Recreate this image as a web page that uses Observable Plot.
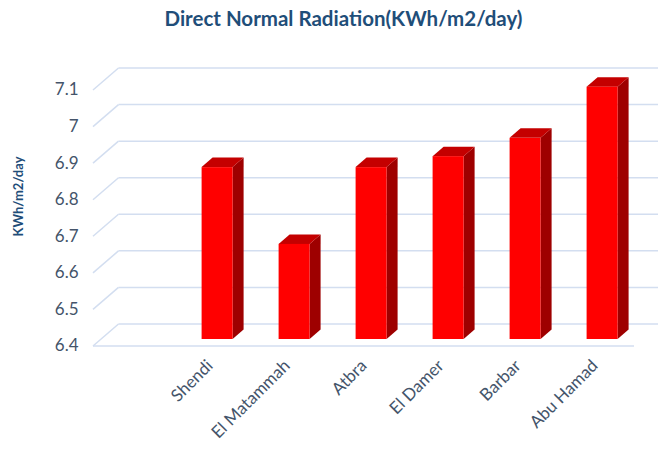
<!DOCTYPE html>
<html><head><meta charset="utf-8">
<script src="https://cdn.jsdelivr.net/npm/d3@7"></script>
<script src="https://cdn.jsdelivr.net/npm/@observablehq/plot@0.6"></script>
<style>
body{margin:0;background:#fff;width:658px;height:455px;overflow:hidden}
#title{height:40px;box-sizing:border-box;padding-top:5px;padding-left:29px;text-align:center;font:bold 20.5px Lato,sans-serif;color:#1f4e79;line-height:26px;white-space:nowrap}
#chart svg{display:block}
</style></head><body>
<div id="title"></div>
<div id="chart"></div>
<script>
const chartTitle = "Direct Normal Radiation(KWh/m2/day)";
const yTitle = "KWh/m2/day";
const categories = ["", "Shendi", "El Matammah", "Atbra", "El Damer", "Barbar", "Abu Hamad"];
const sites = ["Shendi", "El Matammah", "Atbra", "El Damer", "Barbar", "Abu Hamad"];
const radiation = [6.87, 6.66, 6.87, 6.9, 6.95, 7.09];
const yTicks = [6.4, 6.5, 6.6, 6.7, 6.8, 6.9, 7, 7.1];
const yBase = 6.4;

document.getElementById("title").textContent = chartTitle;
const data = sites.map((s, i) => ({site: s, value: radiation[i]}));

const WALL_DX = 25.5, WALL_DY = 22;   // depth of the 3-D wall
const BAR_DX = 7.6, BAR_DY = 6.5;      // bar front plane offset
const DEP_DX = 11, DEP_DY = 9.5;       // bar depth
const gridColor = "#d3def0";
const NS = "http://www.w3.org/2000/svg";

function diagonals(index, scales, values, dims, ctx, next) {
  const g = next(index, scales, values, dims, ctx);
  d3.select(g).selectAll("line").each(function() {
    const y = +this.getAttribute("y1");
    this.setAttribute("x1", dims.marginLeft);
    this.setAttribute("x2", dims.marginLeft + WALL_DX);
    this.setAttribute("y2", y - WALL_DY);
  });
  return g;
}

function extrude(index, scales, values, dims, ctx, next) {
  const g = next(index, scales, values, dims, ctx);
  d3.select(g).selectAll("rect").each(function() {
    const x = +this.getAttribute("x"), y = +this.getAttribute("y");
    const w = +this.getAttribute("width"), h = +this.getAttribute("height");
    const p = this.parentNode;
    const side = document.createElementNS(NS, "polygon");
    side.setAttribute("points", `${x+w},${y} ${x+w+DEP_DX},${y-DEP_DY} ${x+w+DEP_DX},${y+h-DEP_DY} ${x+w},${y+h}`);
    side.setAttribute("fill", "#9e0000");
    const top = document.createElementNS(NS, "polygon");
    top.setAttribute("points", `${x},${y} ${x+DEP_DX},${y-DEP_DY} ${x+w+DEP_DX},${y-DEP_DY} ${x+w},${y}`);
    top.setAttribute("fill", "#c40000");
    p.insertBefore(side, this);
    p.insertBefore(top, this);
  });
  return g;
}

const chart = Plot.plot({
  width: 658,
  height: 415,
  marginLeft: 93,
  marginRight: 24,
  marginTop: 49.5,
  marginBottom: 109.5,
  style: {fontFamily: "Lato, sans-serif", color: "#44546a", background: "#fff"},
  x: {domain: categories, paddingInner: 0.6, paddingOuter: 0.3},
  y: {domain: [6.4, 7.1]},
  marks: [
    Plot.ruleY(yTicks, {stroke: gridColor, strokeWidth: 1.5, dx: WALL_DX, dy: -WALL_DY}),
    Plot.ruleY(yTicks, {stroke: gridColor, strokeWidth: 1.5, render: diagonals}),
    Plot.ruleY([yBase], {stroke: gridColor, strokeWidth: 1.5}),
    Plot.barY(data, {x: "site", y1: yBase, y2: "value", fill: "#ff0000", dx: BAR_DX, dy: -BAR_DY, render: extrude}),
    Plot.axisY({ticks: yTicks, tickSize: 0, tickPadding: 15, fontSize: 17, tickFormat: d => String(d), label: null}),
    Plot.axisX({tickSize: 0, tickRotate: -45, tickPadding: 17, fontSize: 17, label: null}),
    Plot.text([yTitle], {frameAnchor: "left", dx: -75, dy: -21.5, rotate: -90, textAnchor: "middle", fontSize: 13, fontWeight: "bold", fill: "#1f4e79"})
  ]
});
document.getElementById("chart").appendChild(chart);
</script>
</body></html>
